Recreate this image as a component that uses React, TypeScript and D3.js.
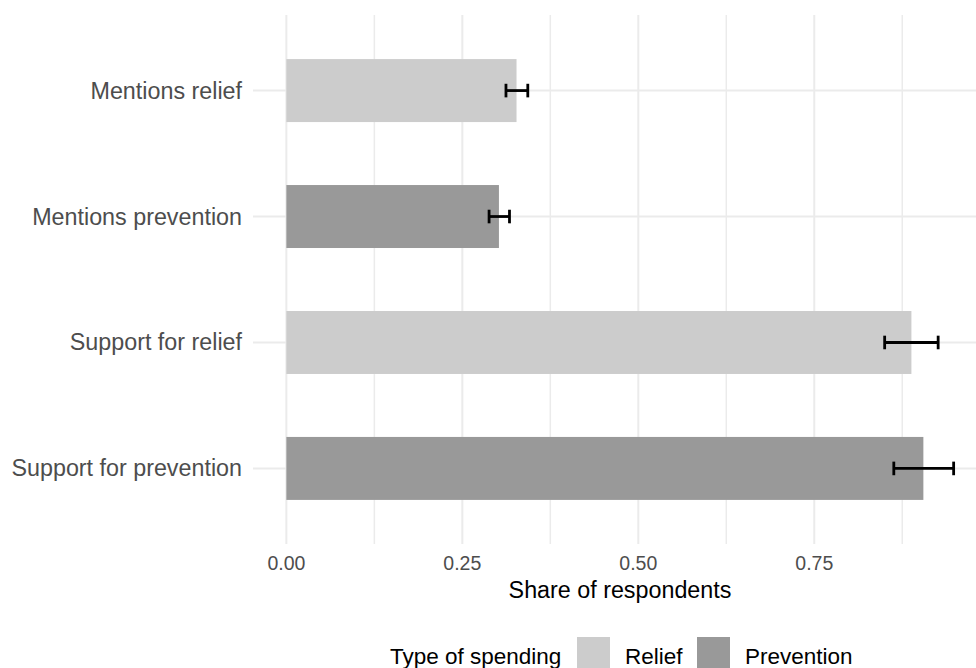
import React from "react";
import * as d3 from "d3";

const categories = ["Mentions relief", "Mentions prevention", "Support for relief", "Support for prevention"];
const types = ["Relief", "Prevention", "Relief", "Prevention"];
const values = [0.327, 0.302, 0.888, 0.905];
const lower = [0.312, 0.288, 0.850, 0.863];
const upper = [0.343, 0.317, 0.926, 0.948];
const typeLevels = ["Relief", "Prevention"];
const typeColors = ["#cccccc", "#999999"];
const xTicks = [0, 0.25, 0.5, 0.75];
const xMinor = [0.125, 0.375, 0.625, 0.875];

const W = 976;
const H = 668;
const FONT = "'Liberation Sans', Arial, Helvetica, sans-serif";

export default function App() {
  const maxV = d3.max(upper) as number;
  const exp = maxV * 0.05;
  const x = d3.scaleLinear().domain([0 - exp, maxV + exp]).range([253, 987]);
  const y = d3.scalePoint<string>().domain(categories).range([15, 544]).padding(0.6);
  const step = y.step();
  const barH = step * 0.5;
  const cap = step * 0.1;
  const color = d3.scaleOrdinal<string, string>().domain(typeLevels).range(typeColors);
  const fmt = d3.format(".2f");

  return (
    <svg width={W} height={H} style={{ position: "absolute", left: 0, top: 0, background: "#fff" }} fontFamily={FONT}>
      <rect x={0} y={0} width={W} height={H} fill="#ffffff" />
      {/* gridlines */}
      {xMinor.map((t) => (
        <line key={"mn" + t} x1={x(t)} x2={x(t)} y1={15} y2={544} stroke="#ebebeb" strokeWidth={1.5} />
      ))}
      {xTicks.map((t) => (
        <line key={"mj" + t} x1={x(t)} x2={x(t)} y1={15} y2={544} stroke="#ebebeb" strokeWidth={2} />
      ))}
      {categories.map((c) => (
        <line key={"gy" + c} x1={253} x2={W} y1={y(c)} y2={y(c)} stroke="#ebebeb" strokeWidth={2} />
      ))}
      {/* bars */}
      {categories.map((c, i) => (
        <rect
          key={"b" + c}
          x={x(0)}
          y={(y(c) as number) - barH / 2}
          width={x(values[i]) - x(0)}
          height={barH}
          fill={color(types[i])}
        />
      ))}
      {/* error bars */}
      {categories.map((c, i) => {
        const cy = y(c) as number;
        return (
          <g key={"e" + c} stroke="#000" strokeWidth={2.8}>
            <line x1={x(lower[i])} x2={x(upper[i])} y1={cy} y2={cy} />
            <line x1={x(lower[i])} x2={x(lower[i])} y1={cy - cap / 2 - 0.5} y2={cy + cap / 2 + 0.5} />
            <line x1={x(upper[i])} x2={x(upper[i])} y1={cy - cap / 2 - 0.5} y2={cy + cap / 2 + 0.5} />
          </g>
        );
      })}
      {/* y labels */}
      {categories.map((c) => (
        <text key={"yl" + c} x={242} y={(y(c) as number) + 8} textAnchor="end" fontSize={23.3} fill="#4d4d4d">
          {c}
        </text>
      ))}
      {/* x tick labels */}
      {xTicks.map((t) => (
        <text key={"xl" + t} x={x(t)} y={570} textAnchor="middle" fontSize={19.5} fill="#4d4d4d">
          {fmt(t)}
        </text>
      ))}
      <text x={620} y={598} textAnchor="middle" fontSize={23.3} fill="#000">
        Share of respondents
      </text>
      {/* legend */}
      <text x={390} y={664} fontSize={22.5} fill="#000">
        Type of spending
      </text>
      {typeLevels.map((t, i) => {
        const sx = [577, 697][i];
        return (
          <g key={"lg" + t}>
            <rect x={sx} y={637} width={33} height={33} fill={color(t)} />
            <text x={sx + 48} y={664} fontSize={22.5} fill="#000">
              {t}
            </text>
          </g>
        );
      })}
    </svg>
  );
}
